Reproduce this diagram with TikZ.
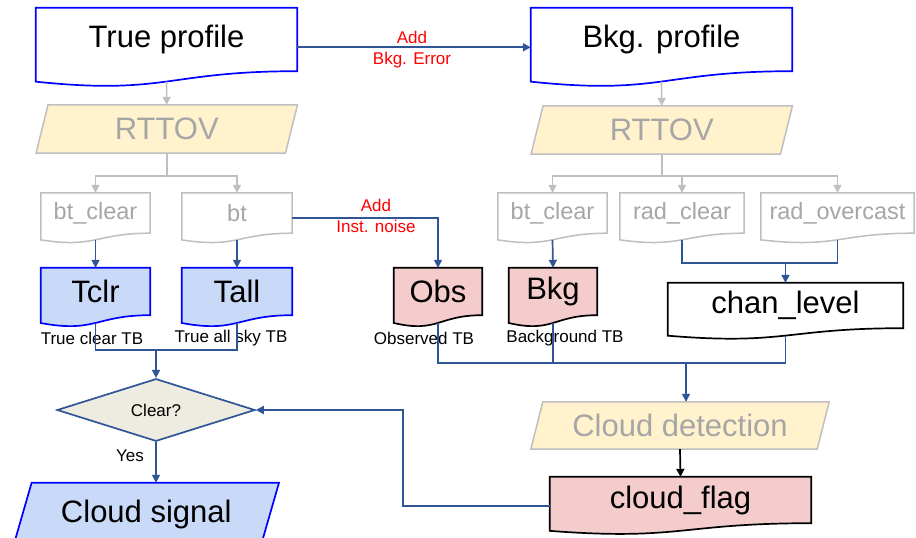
\documentclass[tikz,border=0pt]{standalone}
\usepackage{fontspec}
\setmainfont{Liberation Sans}
\usetikzlibrary{arrows.meta,shapes.geometric,calc,backgrounds}

\definecolor{flowblue}{RGB}{47,85,151}
\definecolor{edgeblue}{RGB}{0,0,255}
\definecolor{fillblue}{RGB}{201,218,248}
\definecolor{fillpink}{RGB}{244,204,204}
\definecolor{fillyellow}{RGB}{255,242,204}
\definecolor{fillbeige}{RGB}{238,236,225}
\definecolor{greyedge}{RGB}{191,191,191}
\definecolor{greytext}{RGB}{166,166,166}

% outline of a document shape round node #2 (wavy bottom)
\newcommand{\docoutline}[2]{%
  \path[#1] let \p1=(#2.north), \p2=(#2.south) in
    (#2.north west) -- (#2.north east) -- (#2.south east)
    .. controls (#2.south) and (\x2,{\y2-0.38*(\y1-\y2)}) .. ([yshift={-0.165*(\y1-\y2)}]#2.south west) -- cycle;
  \path let \p1=(#2.north), \p2=(#2.south) in
    (\x2,{\y2-0.163*(\y1-\y2)}) coordinate (#2-wave)
    (\x2,{\y1-0.623*(\y1-\y2)}) coordinate (#2-mid);}
% outline of a parallelogram round node #2, slant #3
\newcommand{\paraoutline}[3]{%
  \path[#1] ([xshift=#3]#2.north west) -- ([xshift=#3]#2.north east)
    -- ([xshift=-#3]#2.south east) -- ([xshift=-#3]#2.south west) -- cycle;}

\tikzset{
  bigtext/.style={inner sep=0pt, font=\fontsize{31}{37}\selectfont},
  midtext/.style={inner sep=0pt, text=greytext, font=\fontsize{23.5}{28}\selectfont},
  tag/.style={font=\fontsize{17}{21}\selectfont},
  redtag/.style={tag, text=red, align=center},
  tip/.style={-{Triangle[length=8pt,width=8pt]}},
  flow/.style={draw=flowblue, line width=1.7pt},
  flowarrow/.style={flow, tip},
  greyarrow/.style={draw=greyedge, line width=1.6pt, tip},
  blueedge/.style={draw=edgeblue, line width=1.7pt, fill=fillblue},
  pinkedge/.style={draw=black, line width=1.7pt, fill=fillpink},
  greyedgebox/.style={draw=greyedge, line width=1.5pt, fill=white},
  yellowedge/.style={draw=greyedge, line width=1.5pt, fill=fillyellow}
}

\begin{document}
\begin{tikzpicture}[x=1pt,y=-1pt]
\useasboundingbox (0,0) rectangle (916,538);

% Profiles
\node[bigtext, minimum width=261pt, minimum height=63pt] (tp) at (166.5,39.5) {True profile};
\node[bigtext, minimum width=261pt, minimum height=63pt] (bp) at (661.5,39.5) {Bkg. profile};

% RTTOV
\node[bigtext, text=greytext, minimum width=249pt, minimum height=48pt] (rt1) at (166.75,129) {RTTOV};
\node[bigtext, text=greytext, minimum width=249pt, minimum height=48pt] (rt2) at (661.75,130) {RTTOV};

% RTTOV output
\node[midtext, minimum width=109pt, minimum height=40pt] (btc1) at (95.5,213) {bt\_clear};
\node[midtext, minimum width=110pt, minimum height=40pt] (bt1) at (237,213) {bt};
\node[midtext, minimum width=109pt, minimum height=40pt] (btc2) at (552.5,213) {bt\_clear};
\node[midtext, minimum width=124pt, minimum height=40pt] (radc) at (682,213) {rad\_clear};
\node[midtext, minimum width=153pt, minimum height=40pt] (rado) at (837.5,213) {rad\_overcast};

% TBs
\node[bigtext, minimum width=109pt, minimum height=47pt] (tclr) at (95.5,291.5) {Tclr};
\node[bigtext, minimum width=110pt, minimum height=47pt] (tall) at (237,291.5) {Tall};
\node[bigtext, minimum width=88pt, minimum height=47pt] (obs) at (438,291.5) {Obs};
\node[bigtext, minimum width=88pt, minimum height=47pt] (bkg) at (553,291.5) {Bkg};
\node[bigtext, minimum width=235pt, minimum height=45pt] (chan) at (785.5,305.5) {chan\_level};

\node[tag] (tclrtag) at (92,338) {True clear TB};
\node[tag] (talltag) at (231,338) {True all sky TB};
\node[tag] (obstag) at (424,338) {Observed TB};
\node[tag] (bkgtag) at (565,338) {Background TB};

% detection
\node[bigtext, text=greytext, minimum width=286pt, minimum height=47pt] (cd) at (680,425.5) {Cloud detection};
\node[bigtext, minimum width=261pt, minimum height=46pt] (cf) at (680.5,500) {cloud\_flag};
\node[shape=diamond, draw=flowblue, line width=1.7pt, fill=fillbeige, inner sep=0pt,
      minimum width=198pt, minimum height=56pt, tag] (clr) at (156,410) {Clear?};
\node[bigtext, minimum width=247pt, minimum height=62pt] (cs) at (146.3,514) {Cloud signal};

% Outlines
\begin{pgfonlayer}{background}
\docoutline{draw=edgeblue,line width=1.7pt,fill=white}{tp}
\docoutline{draw=edgeblue,line width=1.7pt,fill=white}{bp}
\paraoutline{yellowedge}{rt1}{6pt}
\paraoutline{yellowedge}{rt2}{6pt}
\docoutline{greyedgebox}{btc1}
\docoutline{greyedgebox}{bt1}
\docoutline{greyedgebox}{btc2}
\docoutline{greyedgebox}{radc}
\docoutline{greyedgebox}{rado}
\docoutline{blueedge}{tclr}
\docoutline{blueedge}{tall}
\docoutline{pinkedge}{obs}
\docoutline{pinkedge}{bkg}
\docoutline{draw=black,line width=1.7pt,fill=white}{chan}
\paraoutline{yellowedge}{cd}{6pt}
\docoutline{pinkedge}{cf}
\paraoutline{blueedge}{cs}{9pt}
\end{pgfonlayer}

% Connectors
\draw[flowarrow] (tp-mid -| tp.east) -- (bp-mid -| bp.west);
\node[redtag] (bkgerr) at (412,50) {Add\\Bkg. Error};
\draw[greyarrow] (tp-wave) -- (rt1.north);
\draw[greyarrow] (bp-wave) -- (rt2.north);

\draw[draw=greyedge, line width=1.6pt] (rt1.south) -- ++(0,23) coordinate (f1);
\draw[greyarrow] (f1) -| (btc1.north);
\draw[greyarrow] (f1) -| (bt1.north);
\draw[draw=greyedge, line width=1.6pt] (rt2.south) -- ++(0,22) coordinate (f2);
\draw[greyarrow] (f2) -| (btc2.north);
\draw[greyarrow] (f2) -- (f2 -| radc.north) -- (radc.north);
\draw[greyarrow] (f2) -| (rado.north);

\draw[flowarrow] (btc1-wave) -- (tclr.north);
\draw[flowarrow] (bt1-wave) -- (tall.north);
\draw[flowarrow] (btc2-wave) -- (bkg.north);
\draw[flowarrow] (bt1-mid -| bt1.east) -| (obs.north);
\node[redtag] (noise) at (376,216) {Add\\Inst. noise};

\coordinate (j3) at ($(chan.north)+(0,-20)$);
\draw[flow] (radc-wave) |- (j3) -| (rado-wave);
\draw[flowarrow] (j3) -- (chan.north);

\coordinate (j1) at ($(clr.north)+(0,-28)$);
\draw[flow] (tclr-wave) |- (j1) -| (tall-wave);
\draw[flowarrow] (j1) -- (clr.north);

\coordinate (j2) at ($(cd.north)+(6,-39)$);
\draw[flow] (obs-wave) |- (j2) -| (chan-wave);
\draw[flow] (bkg-wave) -- (bkg-wave |- j2);
\draw[flowarrow] (j2) -- (j2 |- cd.north);

\draw[line width=1.7pt, tip] (cd.south) -- (cf.north);
\draw[flowarrow] (cf-mid -| cf.west) -- ++(-147,0) |- (clr.east);
\draw[flowarrow] (clr.south) -- node[tag, pos=0.33, left=8pt] {Yes} (clr.south |- cs.north);

\end{tikzpicture}
\end{document}
